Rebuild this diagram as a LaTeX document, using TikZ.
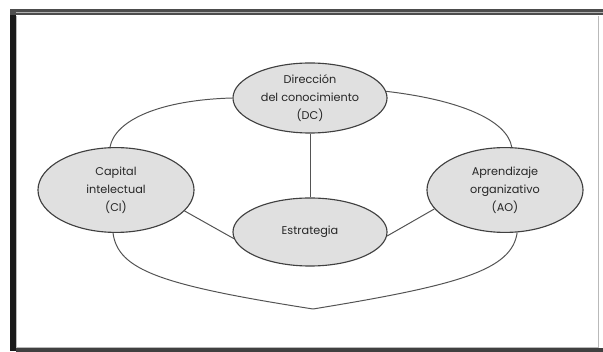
\documentclass[tikz,border=0pt]{standalone}
\usepackage{fontspec}
\setmainfont{Poppins}
\usetikzlibrary{shapes.geometric}
\definecolor{bubble}{gray}{0.88}
\definecolor{rim}{gray}{0.25}
\tikzset{
  bubblebox/.style={ellipse,draw=rim,fill=bubble,line width=0.8pt,inner sep=0pt,
    align=center,font=\fontsize{8}{12.8}\selectfont,text=black!85},
  link/.style={draw=rim!90,line width=0.7pt}
}

\begin{document}
\begin{tikzpicture}[x=0.025cm,y=-0.025cm]
\useasboundingbox (0,0) rectangle (603,352);
\fill[white] (0,0) rectangle (603,352);
% frame
\fill[black!90] (10,9.5) rectangle (15.5,351.5);
\fill[black!70] (10,9.5) rectangle (603,15);
\draw[gray!60,line width=0.5pt] (15.5,12.2) -- (603,12.2);
\fill[black!75] (15.5,348) rectangle (603,352);
\draw[gray!55,line width=0.4pt] (16.5,16.5) -- (16.5,347.5) -- (598,347.5) -- (598,16.5);
% ellipses
\node[bubblebox,minimum width=3.85cm,minimum height=1.75cm] (DC) at (310,98)
  {Dirección\\del conocimiento\\(DC)};
\node[bubblebox,minimum width=3.9cm,minimum height=2.12cm] (CI) at (116,190)
  {Capital\\intelectual\\(CI)};
\node[bubblebox,minimum width=3.9cm,minimum height=2.12cm] (AO) at (505,190)
  {Aprendizaje\\organizativo\\(AO)};
\node[bubblebox,minimum width=3.85cm,minimum height=1.7cm] (Es) at (310,232)
  {Estrategia};
\coordinate (bot) at (313,309);
% connectors
\draw[link] (DC.south) -- (Es.north);
\draw[link] (CI.-17) -- (Es.185);
\draw[link] (Es.-3) -- (AO.195);
\draw[link] (DC.west) .. controls (160,100) and (115,120) .. (CI.98);
\draw[link] (DC.5) .. controls (460,100) and (507,120) .. (AO.81);
\draw[link] (CI.-94) .. controls (118,270) and (160,285) .. (bot);
\draw[link] (bot) .. controls (460,285) and (512,270) .. (AO.-74);
\end{tikzpicture}
\end{document}
